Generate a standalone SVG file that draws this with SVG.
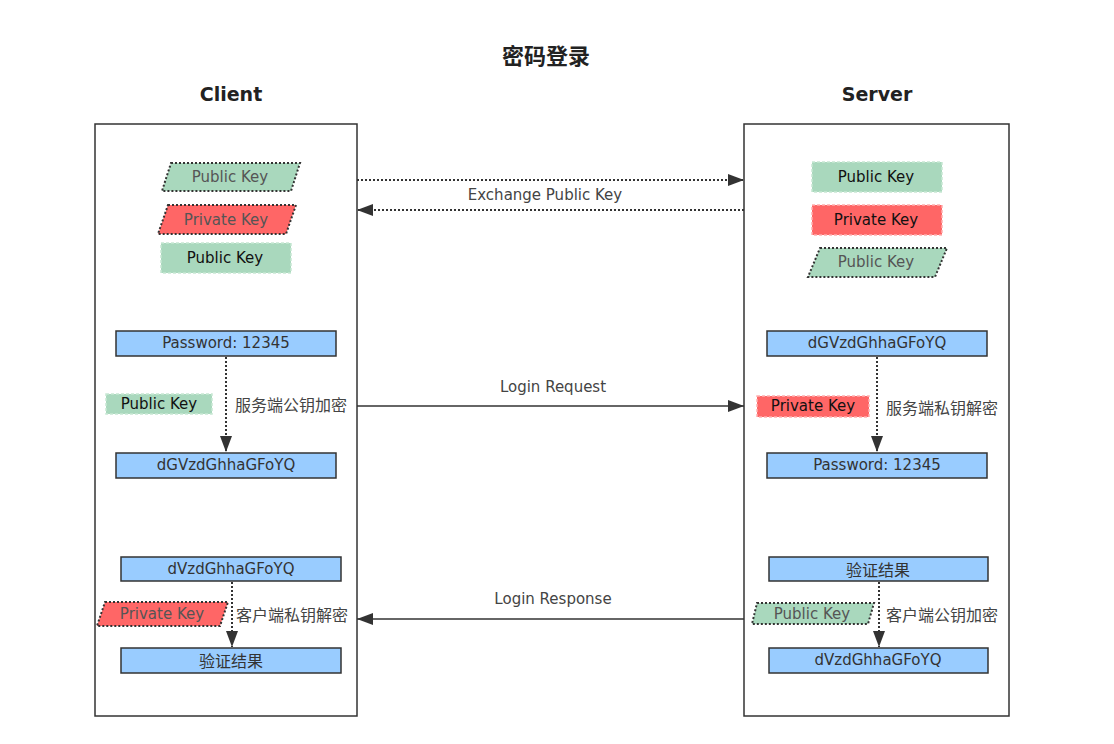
<svg xmlns="http://www.w3.org/2000/svg" width="1114" height="744" viewBox="0 0 1114 744">
<defs>
<marker id="ah" viewBox="0 0 16 12" refX="16" refY="6" markerWidth="16" markerHeight="12" markerUnits="userSpaceOnUse" orient="auto">
<path d="M0,0 L16,6 L0,12 Z" fill="#333"/>
</marker>
</defs>
<style>
text{font-family:"DejaVu Sans","Noto Sans CJK SC",sans-serif;fill:#333;text-anchor:middle;dominant-baseline:central}
.h{font-weight:bold;font-size:19px;fill:#222}
.ht{font-family:"Noto Sans CJK SC",sans-serif;font-weight:bold;font-size:22px;fill:#222}
.t{font-size:15px}
.c{font-family:"Noto Sans CJK SC",sans-serif;font-size:16px}
.l{font-size:15px;fill:#444}
.lc{font-family:"Noto Sans CJK SC",sans-serif;font-size:16px;fill:#444}
.lane{fill:#fff;stroke:#333;stroke-width:1.5}
.box{fill:#99ccff;stroke:#333;stroke-width:1.5}
.pg{fill:#a9d8bd;stroke:#333;stroke-width:2;stroke-dasharray:2 2}
.pr{fill:#ff6666;stroke:#333;stroke-width:2;stroke-dasharray:2 2}
.rg{fill:#a9d8bd;stroke:#c8e8d4;stroke-width:1.5;stroke-dasharray:3 2}
.rr{fill:#ff6666;stroke:#ffb0b0;stroke-width:1.5;stroke-dasharray:3 2}
.kt{font-size:15px;fill:#555}
.kd{font-size:15px;fill:#111}
.dot{fill:none;stroke:#333;stroke-width:2;stroke-dasharray:2 2;marker-end:url(#ah)}
.sol{fill:none;stroke:#333;stroke-width:1.5;marker-end:url(#ah)}
</style>
<rect width="1114" height="744" fill="#fff"/>
<text class="ht" x="546" y="54">密码登录</text>
<g id="client">
<rect class="lane" x="95" y="124" width="262" height="592"/>
<text class="h" x="231" y="94">Client</text>
</g>
<g id="server">
<rect class="lane" x="744" y="124" width="265" height="592"/>
<text class="h" x="877" y="94">Server</text>
</g>
<g id="c-pub1"><polygon class="pg" points="171,163 300,163 291,191 162,191"/><text class="kt" x="230" y="177">Public Key</text></g>
<g id="c-priv1"><polygon class="pr" points="168,205 296,205 286,234 158,234"/><text class="kt" x="226" y="220">Private Key</text></g>
<g id="c-pub2"><rect class="rg" x="161" y="243" width="130" height="30"/><text class="kd" x="225" y="258">Public Key</text></g>
<g id="s-pub1"><rect class="rg" x="812" y="162" width="130" height="30"/><text class="kd" x="876" y="177">Public Key</text></g>
<g id="s-priv1"><rect class="rr" x="812" y="205" width="130" height="30"/><text class="kd" x="876" y="220">Private Key</text></g>
<g id="s-pub2"><polygon class="pg" points="820,248 947,248 935,277 808,277"/><text class="kt" x="876" y="262">Public Key</text></g>
<g id="c-pw"><rect class="box" x="116" y="331" width="220" height="25"/><text class="t" x="226" y="343">Password: 12345</text></g>
<g id="c-pk"><rect class="rg" x="106" y="394" width="106" height="20"/><text class="kd" x="159" y="404">Public Key</text></g>
<g id="c-enc"><rect class="box" x="116" y="453" width="220" height="25"/><text class="t" x="226" y="465">dGVzdGhhaGFoYQ</text></g>
<g id="s-enc"><rect class="box" x="767" y="331" width="220" height="25"/><text class="t" x="877" y="343">dGVzdGhhaGFoYQ</text></g>
<g id="s-pk"><rect class="rr" x="757" y="396" width="112" height="21"/><text class="kd" x="813" y="406">Private Key</text></g>
<g id="s-pw"><rect class="box" x="767" y="453" width="220" height="25"/><text class="t" x="877" y="465">Password: 12345</text></g>
<g id="c-resp"><rect class="box" x="121" y="557" width="220" height="24"/><text class="t" x="231" y="569">dVzdGhhaGFoYQ</text></g>
<g id="c-pk2"><polygon class="pr" points="105,602 228,602 220,626 97,626"/><text class="kt" x="162" y="614">Private Key</text></g>
<g id="c-res"><rect class="box" x="121" y="648" width="220" height="25"/><text class="c" x="231" y="660">验证结果</text></g>
<g id="s-res"><rect class="box" x="769" y="557" width="219" height="24"/><text class="c" x="878" y="569">验证结果</text></g>
<g id="s-pk2"><polygon class="pg" points="757,603 874,603 868,624 752,624"/><text class="kt" x="812" y="614">Public Key</text></g>
<g id="s-resp"><rect class="box" x="769" y="648" width="219" height="25"/><text class="t" x="878" y="660">dVzdGhhaGFoYQ</text></g>
<g id="connectors">
<path class="dot" d="M357,180 L744,180"/>
<path class="dot" d="M744,210 L357,210"/>
<text class="l" x="545" y="195">Exchange Public Key</text>
<path class="sol" d="M357,406 L744,406"/>
<text class="l" x="553" y="387">Login Request</text>
<path class="sol" d="M744,619 L357,619"/>
<text class="l" x="553" y="599">Login Response</text>
<path class="dot" d="M226,357 L226,452"/>
<text class="lc" x="291" y="404">服务端公钥加密</text>
<path class="dot" d="M877,357 L877,452"/>
<text class="lc" x="942" y="407">服务端私钥解密</text>
<path class="dot" d="M232,582 L232,647"/>
<text class="lc" x="292" y="614">客户端私钥解密</text>
<path class="dot" d="M879,582 L879,647"/>
<text class="lc" x="942" y="614">客户端公钥加密</text>
</g>
</svg>
